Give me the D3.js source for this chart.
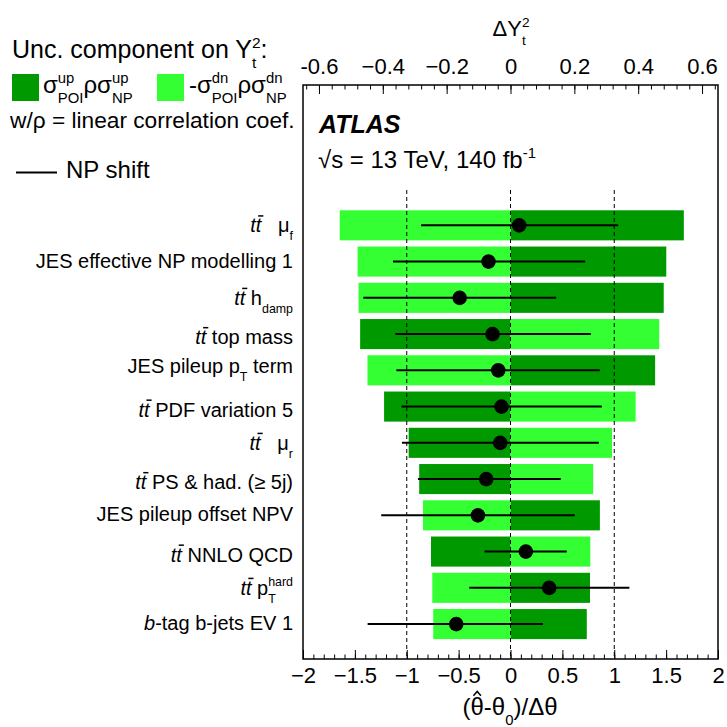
<!DOCTYPE html>
<html lang="en">
<head>
<meta charset="UTF-8"/>
<title>NP ranking</title>
<script src="https://d3js.org/d3.v7.min.js"></script>
<style>
    body { margin: 0; background: #fff; }
    text { font-family: "Liberation Sans", Arial, Helvetica, sans-serif; fill: #000; }
</style>
</head>
<body>
<svg width="727" height="727"></svg>
<script>
// nuisance parameters, top ranked first
var labels = [
    "ttbar   μ_{f}",
    "JES effective NP modelling 1",
    "ttbar h_{damp}",
    "ttbar top mass",
    "JES pileup p_{T} term",
    "ttbar PDF variation 5",
    "ttbar   μ_{r}",
    "ttbar PS & had. (≥ 5j)",
    "JES pileup offset NPV",
    "ttbar NNLO QCD",
    "ttbar p_{T}^{hard}",
    "*b*-tag b-jets EV 1"
];
// impact on Y_t^2 (top axis)
var impactUp = [0.543, 0.488, 0.480, -0.471, 0.453, -0.396, -0.319, -0.286, 0.280, -0.249, 0.249, 0.239];
var impactDn = [-0.535, -0.479, -0.476, 0.466, -0.448, 0.392, 0.318, 0.259, -0.274, 0.250, -0.245, -0.242];
// pulls (bottom axis)
var pull   = [0.084, -0.212, -0.490, -0.173, -0.118, -0.087, -0.099, -0.234, -0.314, 0.148, 0.373, -0.523];
var pullLo = [-0.862, -1.133, -1.419, -1.110, -1.100, -1.050, -1.046, -0.892, -1.246, -0.250, -0.398, -1.377];
var pullHi = [1.038, 0.720, 0.440, 0.774, 0.861, 0.880, 0.851, 0.485, 0.619, 0.542, 1.146, 0.312];

var bottomTicks = [-2, -1.5, -1, -0.5, 0, 0.5, 1, 1.5, 2];
var topTicks = [-0.6, -0.4, -0.2, 0, 0.2, 0.4, 0.6];
var topTickLabels = ["-0.6", "\u22120.4", "\u22120.2", "0", "0.2", "0.4", "0.6"];
var refLines = [-1, 0, 1];

var darkGreen = "#009900", lightGreen = "#33ff33";

var svg = d3.select("svg");
var plotL = 303, plotR = 718, plotT = 85, plotB = 659;

var x = d3.scaleLinear().domain([-2, 2]).range([plotL, plotR]);
var xt = d3.scaleLinear().domain([-0.65, 0.65]).range([plotL, plotR]);
var y = d3.scaleBand().domain(labels).range([207.2, 642.2])
    .paddingInner(0.17).paddingOuter(0.085);

// tiny TLatex-like text: _{sub} ^{sup} *italic* ttbar θhat
function parse(str) {
    var parts = [];
    str.split(/(ttbar|θhat|_\{[^}]*\}|\^\{[^}]*\}|\*[^*]+\*)/).forEach(function(tok) {
        if (!tok) return;
        if (tok === "ttbar") {
            parts.push({s: "t", it: true});
            parts.push({s: "t", it: true, over: true});
        } else if (tok === "θhat") parts.push({s: "θ", hat: true});
        else if (tok[0] === "_" && tok[1] === "{") parts.push({s: tok.slice(2, -1), pos: "sub"});
        else if (tok[0] === "^" && tok[1] === "{") parts.push({s: tok.slice(2, -1), pos: "sup"});
        else if (tok[0] === "*" && tok.length > 2) parts.push({s: tok.slice(1, -1), it: true});
        else parts.push({s: tok});
    });
    return parts;
}

function rich(parent, str, px, py, size, anchor, style) {
    var g = parent.append("g");
    var parts = parse(str), cx = 0, stackX = null, stackW = 0;
    parts.forEach(function(p, i) {
        var fs = p.pos ? size * 0.62 : size;
        var dy = p.pos === "sub" ? size * 0.4 : p.pos === "sup" ? -size * 0.42 : 0;
        var t = g.append("text")
            .attr("x", cx).attr("y", dy)
            .attr("font-size", fs)
            .style("white-space", "pre")
            .text(p.s);
        if (p.it) t.attr("font-style", "italic");
        if (style === "bi") t.attr("font-style", "italic").attr("font-weight", "bold");
        var w = t.node().getComputedTextLength();
        if (p.over) {
            g.append("line")
                .attr("x1", cx + fs * 0.12).attr("x2", cx + w + fs * 0.1)
                .attr("y1", dy - fs * 0.82).attr("y2", dy - fs * 0.82)
                .attr("stroke", "#000").attr("stroke-width", 1.5);
        }
        if (p.hat) {
            g.append("path")
                .attr("d", "M" + (cx + w * 0.22) + "," + (dy - fs * 0.8) +
                    "L" + (cx + w * 0.5) + "," + (dy - fs * 0.98) +
                    "L" + (cx + w * 0.78) + "," + (dy - fs * 0.8))
                .attr("fill", "none").attr("stroke", "#000").attr("stroke-width", 1.5);
        }
        var next = parts[i + 1];
        if (stackX !== null) {
            cx = stackX + Math.max(stackW, w);
            stackX = null;
        } else if (p.pos && next && next.pos && next.pos !== p.pos) {
            stackX = cx;
            stackW = w;
        } else {
            cx += w;
        }
    });
    var dx = anchor === "end" ? -cx : anchor === "middle" ? -cx / 2 : 0;
    g.attr("transform", "translate(" + (px + dx) + "," + py + ")");
    return g;
}

// impact bars
function bar(vals, color) {
    svg.append("g").selectAll("rect")
        .data(labels)
        .enter().append("rect")
        .attr("x", function(d, i) { return xt(Math.min(0, vals[i])); })
        .attr("width", function(d, i) { return Math.abs(xt(vals[i]) - xt(0)); })
        .attr("y", function(d) { return y(d); })
        .attr("height", y.bandwidth())
        .attr("fill", color);
}
bar(impactUp, darkGreen);
bar(impactDn, lightGreen);

// reference lines
svg.append("g").selectAll("line")
    .data(refLines)
    .enter().append("line")
    .attr("x1", function(d) { return x(d); })
    .attr("x2", function(d) { return x(d); })
    .attr("y1", 190).attr("y2", plotB)
    .attr("stroke", "#000").attr("stroke-width", 1)
    .attr("stroke-dasharray", "4,3");

// pulls
var pulls = svg.append("g");
pulls.selectAll("line")
    .data(labels)
    .enter().append("line")
    .attr("x1", function(d, i) { return x(pullLo[i]); })
    .attr("x2", function(d, i) { return x(pullHi[i]); })
    .attr("y1", function(d) { return y(d) + y.bandwidth() / 2; })
    .attr("y2", function(d) { return y(d) + y.bandwidth() / 2; })
    .attr("stroke", "#000").attr("stroke-width", 2);
pulls.selectAll("circle")
    .data(labels)
    .enter().append("circle")
    .attr("cx", function(d, i) { return x(pull[i]); })
    .attr("cy", function(d) { return y(d) + y.bandwidth() / 2; })
    .attr("r", 7.3)
    .attr("fill", "#000");

// frame
svg.append("rect")
    .attr("x", plotL).attr("y", plotT)
    .attr("width", plotR - plotL).attr("height", plotB - plotT)
    .attr("fill", "none").attr("stroke", "#000").attr("stroke-width", 1.5);

// bottom axis
var minorB = d3.range(-20, 21).map(function(i) { return i / 10; });
svg.append("g").attr("transform", "translate(0," + plotB + ")")
    .call(d3.axisBottom(x).tickValues(minorB).tickFormat("").tickSizeInner(-4.5).tickSizeOuter(0))
    .call(function(g) { g.select(".domain").remove(); });
var gx = svg.append("g").attr("transform", "translate(0," + plotB + ")")
    .call(d3.axisBottom(x).tickValues(bottomTicks).tickFormat(d3.format(""))
        .tickSizeInner(-9).tickSizeOuter(0).tickPadding(8));
gx.select(".domain").remove();
gx.attr("font-size", 22);

// top axis
var minorT = d3.range(-16, 17).map(function(i) { return i * 0.04; });
svg.append("g").attr("transform", "translate(0," + plotT + ")")
    .call(d3.axisTop(xt).tickValues(minorT).tickFormat("").tickSizeInner(-4.5).tickSizeOuter(0))
    .call(function(g) { g.select(".domain").remove(); });
var gt = svg.append("g").attr("transform", "translate(0," + plotT + ")")
    .call(d3.axisTop(xt).tickValues(topTicks)
        .tickFormat(function(d, i) { return topTickLabels[i]; })
        .tickSizeInner(-9).tickSizeOuter(0).tickPadding(11));
gt.select(".domain").remove();
gt.attr("font-size", 22);

// axis titles
rich(svg, "ΔY_{t}^{2}", 511, 36, 22, "middle");
rich(svg, "(θhat-θ_{0})/Δθ", 510, 715, 24, "middle");

// row labels
labels.forEach(function(d) {
    var off = 6 + (d.indexOf("ttbar") === 0 ? 4 : 0) - (d.indexOf("_{") >= 0 ? 3 : 0);
    rich(svg, d, 293, y(d) + y.bandwidth() / 2 + off, 20, "end");
});

// ATLAS label
rich(svg, "ATLAS", 319, 132.5, 25, "start", "bi");
rich(svg, "√s = 13 TeV, 140 fb^{-1}", 318, 168, 24, "start");

// legend
rich(svg, "Unc. component on Y_{t}^{2}:", 12, 58, 25, "start");
svg.append("rect").attr("x", 12).attr("y", 74).attr("width", 27).attr("height", 27).attr("fill", darkGreen);
rich(svg, "σ^{up}_{POI}ρσ^{up}_{NP}", 43, 93, 24, "start");
svg.append("rect").attr("x", 157).attr("y", 74).attr("width", 27).attr("height", 27).attr("fill", lightGreen);
rich(svg, "-σ^{dn}_{POI}ρσ^{dn}_{NP}", 189, 93, 24, "start");
rich(svg, "w/ρ = linear correlation coef.", 10, 128, 22.7, "start");
svg.append("line").attr("x1", 16).attr("x2", 57).attr("y1", 172.5).attr("y2", 172.5)
    .attr("stroke", "#000").attr("stroke-width", 2);
rich(svg, "NP shift", 66, 178, 24, "start");
</script>
</body>
</html>
